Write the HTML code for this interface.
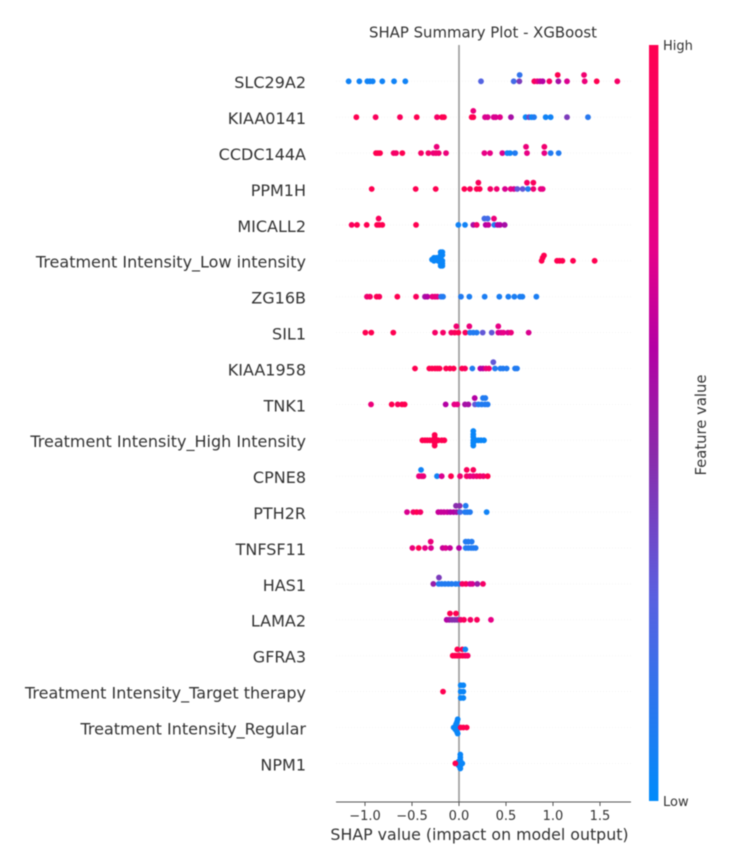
<!DOCTYPE html>
<html lang="en">
<head>
<meta charset="utf-8">
<title>SHAP Summary Plot - XGBoost</title>
<style>
html,body{margin:0;padding:0;background:#fff;width:742px;height:865px;overflow:hidden}
svg{display:block;filter:blur(0.6px)}
text{font-family:"DejaVu Sans","Liberation Sans",sans-serif;fill:#333}
</style>
</head>
<body>
<svg id="chart" xmlns="http://www.w3.org/2000/svg" width="742" height="865" viewBox="0 0 742 865">
  <defs>
    <linearGradient id="cbar" x1="0" y1="1" x2="0" y2="0">
      <stop offset="0" stop-color="#008bfb"/>
      <stop offset="0.27" stop-color="#5a60e0"/>
      <stop offset="0.46" stop-color="#8b2aaa"/>
      <stop offset="0.6" stop-color="#b400a4"/>
      <stop offset="0.73" stop-color="#e60089"/>
      <stop offset="1" stop-color="#ff0051"/>
    </linearGradient>
  </defs>
  <rect width="742" height="865" fill="#fff"/>
  <text x="483" y="37.5" text-anchor="middle" font-size="14.9">SHAP Summary Plot - XGBoost</text>
  <g id="guides"></g>
  <line x1="459" y1="45" x2="459" y2="802" stroke="#999" stroke-width="1.6"/>
  <g id="points"></g>
  <line x1="336" y1="802" x2="631" y2="802" stroke="#555" stroke-width="1.1"/>
  <g id="xticks"></g>
  <g id="ylabels"></g>
  <text x="479.5" y="840" text-anchor="middle" font-size="15.8">SHAP value (impact on model output)</text>
  <rect x="649" y="45" width="9.4" height="756" fill="url(#cbar)"/>
  <text x="663" y="50" font-size="13">High</text>
  <text x="663" y="806" font-size="13">Low</text>
  <text transform="translate(706,425) rotate(-90)" text-anchor="middle" font-size="14.8">Feature value</text>
</svg>
<script>
const featureNames = ["SLC29A2","KIAA0141","CCDC144A","PPM1H","MICALL2","Treatment Intensity_Low intensity","ZG16B","SIL1","KIAA1958","TNK1","Treatment Intensity_High Intensity","CPNE8","PTH2R","TNFSF11","HAS1","LAMA2","GFRA3","Treatment Intensity_Target therapy","Treatment Intensity_Regular","NPM1"];
const xTickValues = [-1.0,-0.5,0.0,0.5,1.0,1.5];
const xTickLabels = ["\u22121.0","\u22120.5","0.0","0.5","1.0","1.5"];

const shapValues = [
 [-1.174,-1.06,-.975,-.947,-.918,-.816,-.691,-.571,.234,.582,.642,.801,.833,.862,.89,.961,1.057,1.149,1.337,1.465,1.684,.645,1.05,1.33],
 [-1.092,-.887,-.628,-.45,-.234,-.181,-.16,.135,.152,.277,.305,.369,.39,.436,.553,.709,.745,.773,.798,.922,.975,1.149,1.372,.152],
 [-.883,-.862,-.84,-.695,-.67,-.603,-.404,-.326,-.273,-.245,-.216,-.138,.27,.33,.461,.514,.543,.596,.723,.908,.975,1.06,-.238,.713,.908],
 [-.929,-.461,-.248,.057,.117,.188,.22,.333,.401,.489,.55,.585,.62,.677,.734,.791,.869,.89,.206,.723,.791],
 [-1.142,-1.085,-.982,-.872,-.848,-.816,-.457,-.007,.064,.152,.188,.284,.312,.376,.411,.436,.486,-.855,.27,.305,.372],
 [-.195,-.177,-.195,-.177,-.195,-.266,-.238,-.195,-.287,-.266,-.223,-.177,-.195,-.177,-.195,-.177,.879,.89,.904,1.043,1.07,1.1,1.213,1.443],
 [-.979,-.947,-.876,-.848,-.656,-.457,-.362,-.337,-.284,-.255,-.23,-.191,-.17,.021,.11,.273,.429,.525,.589,.649,.674,.823],
 [-.996,-.933,-.699,-.255,-.17,-.082,-.046,-.007,.067,.117,.152,.188,.252,.348,.418,.447,.472,.521,.553,.741,-.028,.11,.418],
 [-.468,-.316,-.287,-.255,-.23,-.206,-.138,-.096,-.057,.032,.064,.142,.227,.255,.287,.319,.383,.44,.468,.507,.596,.617,.365],
 [-.936,-.716,-.652,-.606,-.578,-.142,-.05,-.018,.064,.099,.17,.206,.241,.277,.305,.167,.255,.28],
 [-.39,-.362,-.337,-.309,-.28,-.255,-.22,-.184,-.156,-.259,-.259,-.259,-.259,.152,.152,.152,.152,.152,.152,.177,.206,.234,.266],
 [-.426,-.397,-.379,-.234,-.184,-.085,.011,.082,.117,.152,.188,.223,.259,.305,-.404,.082,.152],
 [-.553,-.486,-.45,-.411,-.22,-.191,-.16,-.124,-.092,-.057,-.025,.011,.064,.089,.117,.294,-.032,.007,.071],
 [-.496,-.429,-.362,-.298,-.174,-.142,-.096,0,.071,.099,.128,.152,.177,-.301,.071,.099,.135],
 [-.273,-.216,-.184,-.149,-.113,-.078,-.035,0,.035,.074,.117,.142,.195,.255,-.213],
 [-.131,-.103,-.074,-.046,-.018,.018,.053,.121,.191,.34,-.096,-.032],
 [-.067,-.043,-.018,.011,.039,.067,.092,-.018,.035,.067],
 [-.17,.018,.046,.018,.046,.018,.046],
 [-.014,-.021,-.032,-.057,-.032,-.007,-.039,-.021,-.014,.018,.046,.082],
 [.014,.014,.014,.014,.014,.014,-.004,-.004,.035,-.039]
];

const featureValues = [
 [.05,.05,.05,.05,.05,.05,.05,.05,.25,.2,.4,.95,.8,.65,.6,.9,.55,.7,.8,1,.9,.15,1,.85],
 [1,.95,.95,1,.9,1,1,1,1,.7,.7,.7,.7,.72,.55,.02,.35,.02,.1,.05,.05,.4,.12,.8],
 [1,1,1,.9,.9,1,.9,.9,.8,.85,.85,.8,.75,.75,.7,.05,.05,.1,.75,.75,.1,.1,.8,.8,.85],
 [1,1,1,1,.95,1,1,.9,.85,.7,.75,.7,.3,.3,.1,.85,.8,.75,.95,.9,.95],
 [.95,1,1,1,1,1,1,.05,.05,.55,.85,.6,.65,.1,.6,.6,.55,.95,.2,.2,.8],
 [.03,.03,.03,.03,.03,.03,.03,.03,.03,.03,.03,.03,.03,.03,.03,.03,1,1,1,1,1,1,1,1],
 [.85,.9,1,.95,1,.95,.55,.6,.75,.8,.75,.15,.1,.1,.08,.08,.08,.08,.08,.08,.08,.08],
 [1,1,1,.9,.9,.9,.95,1,.95,.1,.1,.1,.3,.3,.7,.7,.75,.7,.8,.7,.85,.8,.75],
 [1,1,1,1,1,1,1,1,1,1,.95,.1,.6,.6,.8,.85,.1,.1,.1,.1,.1,.1,.3],
 [.8,1,.95,1,1,.6,.75,.75,.55,.55,.3,.1,.1,.1,.1,.6,.1,.1],
 [1,1,1,1,1,1,1,1,1,1,1,1,1,.03,.03,.03,.03,.03,.03,.03,.03,.03,.03],
 [.8,.8,.8,.05,.7,1,.85,.9,.8,.75,.85,.9,.85,1,.05,.95,.95],
 [.7,.9,1,.9,.65,.65,.65,.65,.6,.6,.55,.2,.1,.1,.1,.05,.45,.45,.1],
 [.8,1,.75,.7,.65,.7,.65,.6,.1,.1,.1,.1,.1,.8,.1,.1,.1],
 [.5,.1,.1,.1,.1,.1,.1,.1,.9,.95,.7,.7,.5,.9,.4],
 [.6,.55,.45,.45,.45,.85,.95,.9,.95,.75,1,1],
 [1,1,1,1,1,.95,.9,1,1,.05],
 [1,.03,.03,.03,.03,.03,.03],
 [.03,.03,.03,.03,.03,.03,.03,.03,.03,1,1,1],
 [.03,.03,.03,.03,.03,.03,.03,.03,.03,1]
];

const swarmLanes = [
 [0,0,0,0,0,0,0,0,0,0,0,0,0,0,0,0,0,0,0,0,0,1,1,1],
 [0,0,0,0,0,0,0,0,0,0,0,0,0,0,0,0,0,0,0,0,0,0,0,1],
 [0,0,0,0,0,0,0,0,0,0,0,0,0,0,0,0,0,0,0,0,0,0,1,1,1],
 [0,0,0,0,0,0,0,0,0,0,0,0,0,0,0,0,0,0,1,1,1],
 [0,0,0,0,0,0,0,0,0,0,0,0,0,0,0,0,0,1,1,1,1],
 [1.37,1.37,.9,.9,.47,.47,.47,0,.2,0,0,0,-.42,-.42,-.8,-.8,0,.47,.84,0,0,0,0,0],
 [0,0,0,0,0,0,0,0,0,0,0,0,0,0,0,0,0,0,0,0,0,0],
 [0,0,0,0,0,0,0,0,0,0,0,0,0,0,0,0,0,0,0,0,1,1,1],
 [0,0,0,0,0,0,0,0,0,0,0,0,0,0,0,0,0,0,0,0,0,0,1],
 [0,0,0,0,0,0,0,0,0,0,0,0,0,0,0,1,1,1],
 [0,0,0,0,0,0,0,0,0,.84,.42,-.42,-.84,1.47,.95,.53,0,-.42,-.84,0,0,0,0],
 [0,0,0,0,0,0,0,0,0,0,0,0,0,0,1,1,1],
 [0,0,0,0,0,0,0,0,0,0,0,0,0,0,0,0,1,1,1],
 [0,0,0,0,0,0,0,0,0,0,0,0,0,1,1,1,1],
 [0,0,0,0,0,0,0,0,0,0,0,0,0,0,1],
 [0,0,0,0,0,0,0,0,0,0,1,1],
 [0,0,0,0,0,0,0,1,1,1],
 [0,1,1,0,0,-1,-1],
 [1.3,.9,.5,0,0,0,-.3,-.7,-.95,0,0,0],
 [1.4,.95,.5,0,-.37,-.8,.3,-.3,0,0]
];

const svgNS = "http://www.w3.org/2000/svg";
const xScale = v => 459 + v * 94;
const yScale = i => 81.3 + i * 35.9;
const laneStep = 6.33;
const colorStops = [[0,[0,139,251]],[.27,[90,96,224]],[.46,[139,42,170]],[.6,[180,0,164]],[.73,[230,0,137]],[1,[255,0,81]]];
function colorFor(t){
  for(let k=1;k<colorStops.length;k++){
    if(t<=colorStops[k][0]){
      const a=colorStops[k-1],b=colorStops[k],f=(t-a[0])/(b[0]-a[0]);
      const c=a[1].map((v,j)=>Math.round(v+(b[1][j]-v)*f));
      return "rgb("+c.join(",")+")";
    }
  }
  return "rgb(255,0,81)";
}
function make(tag,attrs,parent){
  const el=document.createElementNS(svgNS,tag);
  for(const k in attrs) el.setAttribute(k,attrs[k]);
  parent.appendChild(el);
  return el;
}
const guides=document.getElementById("guides"),points=document.getElementById("points"),xticks=document.getElementById("xticks"),ylabels=document.getElementById("ylabels");

featureNames.forEach((name,i)=>{
  const y=yScale(i);
  const guide=make("line",{x1:336,x2:631,y1:y,y2:y,stroke:"#ccc","stroke-width":.6,"stroke-dasharray":"1 2",opacity:.35},guides);
  
  
  const label=make("text",{x:306,y:y+6.9,"text-anchor":"end","font-size":"16"},ylabels);
  label.textContent=name;
  
  
  shapValues[i].forEach((v,j)=>{
    const dot=make("circle",{cx:xScale(v),cy:y-swarmLanes[i][j]*laneStep,r:2.9,fill:colorFor(featureValues[i][j])},points);
    
    
  });
});

xTickValues.forEach((v,i)=>{
  const x=xScale(v);
  const tick=make("line",{x1:x,x2:x,y1:802,y2:806,stroke:"#555","stroke-width":1},xticks);
  
  
  const lab=make("text",{x:x,y:820,"text-anchor":"middle","font-size":"13"},xticks);
  lab.textContent=xTickLabels[i];
  
  
});
</script>
</body>
</html>
